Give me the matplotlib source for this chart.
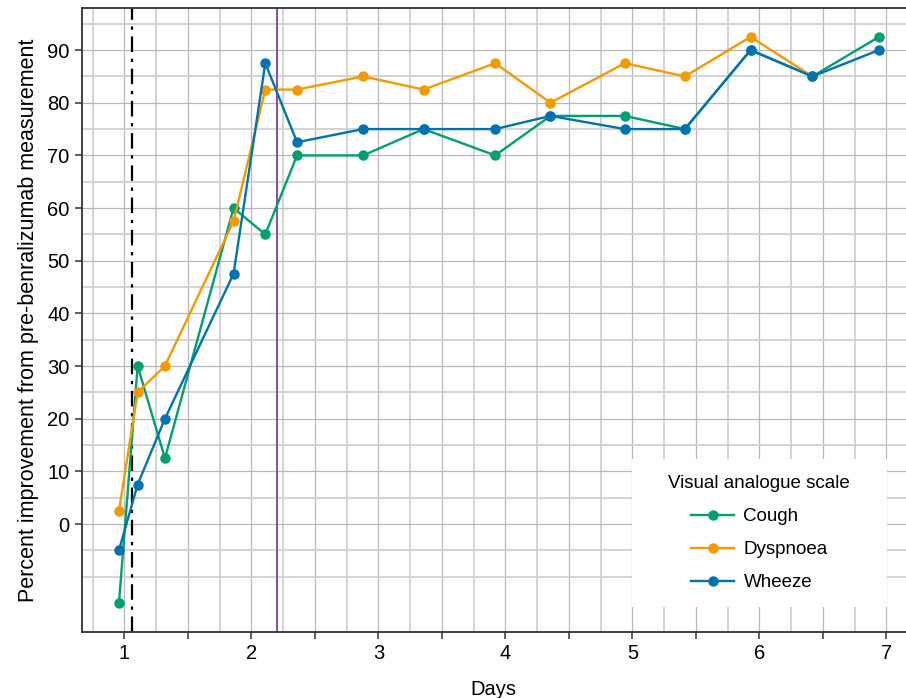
import matplotlib
matplotlib.use('Agg')
import matplotlib.pyplot as plt
import matplotlib.ticker as mticker
from matplotlib.patches import Rectangle

# ── Data ───────────────────────────────────────────────────
days = [0.958, 1.105, 1.32, 1.86, 2.11, 2.36, 2.88, 3.356, 3.92,
        4.355, 4.94, 5.413, 5.93, 6.417, 6.94]
cough = [-15, 30, 12.5, 60, 55, 70, 70, 75, 70, 77.5, 77.5, 75, 90, 85, 92.5]
dyspnoea = [2.5, 25, 30, 57.5, 82.5, 82.5, 85, 82.5, 87.5, 80, 87.5, 85, 92.5, 85]
wheeze = [-5, 7.5, 20, 47.5, 87.5, 72.5, 75, 75, 75, 77.5, 75, 75, 90, 85, 90]
dose_day = 1.063
second_day = 2.2
xtick_labels = ['1', '2', '3', '4', '5', '6', '7']

GREEN = '#009E73'
ORANGE = '#F29A00'
BLUE = '#0072B2'
PURPLE = '#8E4BA6'

plt.rcParams.update({
    'font.family': ['Liberation Sans', 'DejaVu Sans'],
    'font.size': 13,
})

fig = plt.figure(figsize=(9.06, 6.98), dpi=100)
ax = fig.add_axes([0.0905, 0.0946, 0.909, 0.894])

# ── Grid ──
ax.set_xticks([0.75 + 0.25 * i for i in range(26)], minor=True)
ax.set_yticks([-10 + 5 * i for i in range(22)], minor=True)
ax.grid(which='minor', color='#d0d0d0', linewidth=1.3)
ax.grid(which='major', color='#b8b8b8', linewidth=0.9)
ax.set_axisbelow(True)

# ── Series ──
ax.plot(days, cough, '-o', color=GREEN, lw=1.7, ms=6.5, label='Cough', zorder=3)
ax.plot(days[:len(dyspnoea)], dyspnoea, '-o', color=ORANGE, lw=1.7, ms=6.5,
        label='Dyspnoea', zorder=3)
ax.plot(days, wheeze, '-o', color=BLUE, lw=1.7, ms=6.5, label='Wheeze', zorder=3)

ax.axvline(dose_day, color='black', lw=1.6, dashes=(7, 3, 1.5, 3), zorder=2)
ax.axvline(second_day, color=PURPLE, lw=1.4, zorder=2)

# ── Axes ──
ax.set_xlim(0.667, 7.15)
ax.set_ylim(-20.5, 98)
ax.set_xticks([1 + 0.5 * i for i in range(13)])
ax.xaxis.set_major_formatter(mticker.FuncFormatter(
    lambda v, p: xtick_labels[int(v) - 1] if float(v).is_integer() else ''))
ax.set_yticks(range(0, 100, 10))
ax.tick_params(which='major', direction='out', length=5, width=1.1,
               color='#333333', labelsize=14.5, pad=4)
ax.tick_params(which='minor', length=0)
for s in ['left', 'bottom', 'top']:
    ax.spines[s].set_color('#333333')
    ax.spines[s].set_linewidth(1.3)
ax.spines['right'].set_visible(False)

ax.set_xlabel('Days', fontsize=14.5, labelpad=12)
ax.set_ylabel('Percent improvement from pre-benralizumab measurement',
              fontsize=15.5, labelpad=6)

# ── Legend ──
ax.add_patch(Rectangle((0.668, 0.04), 0.309, 0.237, transform=ax.transAxes,
                       facecolor='white', edgecolor='none', zorder=4))
leg = ax.legend(title='Visual analogue scale', loc='center',
                bbox_to_anchor=(0.8225, 0.158), frameon=False,
                fontsize=13.5, title_fontsize=13.5, handlelength=2.3,
                handletextpad=0.5, labelspacing=0.85)
leg.set_zorder(5)

fig.savefig('out.png', dpi=100)
